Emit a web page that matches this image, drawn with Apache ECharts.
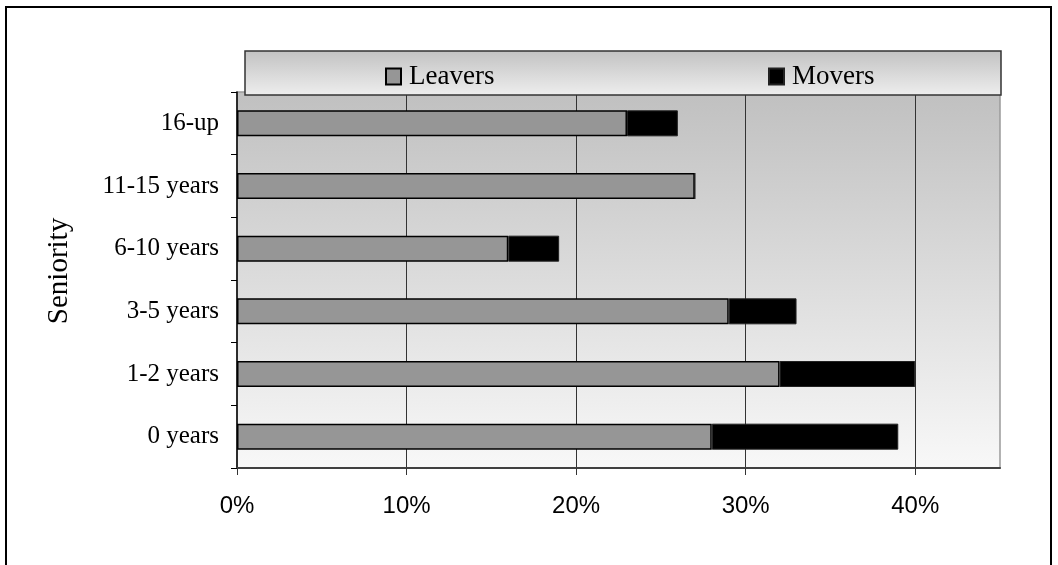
<!DOCTYPE html>
<html>
<head>
<meta charset="utf-8">
<script src="https://cdn.jsdelivr.net/npm/echarts@6/dist/echarts.min.js"></script>
<style>
  html, body { margin: 0; padding: 0; background: #fff; }
  #chart { width: 1058px; height: 565px; }
</style>
</head>
<body>
<div id="chart"></div>
<script>
// Seniority groups, bottom to top
const categories = ['0 years', '1-2 years', '3-5 years', '6-10 years', '11-15 years', '16-up'];
// Share of employees (fractions)
const leavers = [0.28, 0.32, 0.29, 0.16, 0.27, 0.23];
const movers  = [0.11, 0.08, 0.04, 0.03, 0.00, 0.03];
const xTicks = [0, 0.1, 0.2, 0.3, 0.4];

const serif = '"Liberation Serif", "Times New Roman", serif';
const sans = '"Liberation Sans", Arial, sans-serif';

const chart = echarts.init(document.getElementById('chart'), null, { renderer: 'canvas' });

const plotBg = new echarts.graphic.LinearGradient(0, 0, 0, 1, [
  { offset: 0, color: '#c0c0c0' },
  { offset: 1, color: '#f8f8f8' }
]);
const legendBg = new echarts.graphic.LinearGradient(0, 0, 0, 1, [
  { offset: 0, color: '#c2c2c2' },
  { offset: 1, color: '#eeeeee' }
]);

chart.setOption({
  animation: false,
  backgroundColor: '#ffffff',
  graphic: [
    {
      type: 'rect', z: 0, silent: true,
      shape: { x: 6, y: 7, width: 1045, height: 620 },
      style: { fill: 'none', stroke: '#000', lineWidth: 2 }
    },
    {
      type: 'rect', z: 10, silent: true,
      shape: { x: 245, y: 51, width: 756, height: 44 },
      style: { fill: legendBg, stroke: '#333', lineWidth: 1.5 }
    }
  ],
  legend: [
    {
      data: ['Leavers'], left: 380, top: 58, z: 20,
      icon: 'rect', itemWidth: 15, itemHeight: 16, itemGap: 0,
      textStyle: { fontFamily: serif, fontSize: 27, color: '#000', padding: [0, 0, 0, 3] }
    },
    {
      data: ['Movers'], left: 763, top: 58, z: 20,
      icon: 'rect', itemWidth: 15, itemHeight: 16, itemGap: 0,
      textStyle: { fontFamily: serif, fontSize: 27, color: '#000', padding: [0, 0, 0, 3] }
    }
  ],
  grid: {
    left: 237, right: 58, top: 92, bottom: 97,
    show: true, backgroundColor: plotBg,
    borderColor: '#9a9a9a', borderWidth: 1.5,
    containLabel: false
  },
  xAxis: {
    type: 'value', min: 0, max: 0.45, interval: 0.1,
    axisLine: { show: true, lineStyle: { color: '#404040', width: 2 } },
    axisTick: { show: true, length: 7, lineStyle: { color: '#333', width: 1 } },
    axisLabel: {
      margin: 26, fontFamily: sans, fontSize: 24, color: '#000',
      showMaxLabel: false,
      formatter: v => xTicks.some(t => Math.abs(t - v) < 1e-9) ? Math.round(v * 100) + '%' : ''
    },
    splitLine: { show: true, showMinLine: false, showMaxLine: false, lineStyle: { color: '#333', width: 1 } }
  },
  yAxis: {
    type: 'category', data: categories,
    name: 'Seniority', nameLocation: 'middle', nameRotate: 90, nameGap: 163,
    nameTextStyle: { fontFamily: serif, fontSize: 29, color: '#000', padding: [0, 0, 0, 18] },
    axisLine: { show: true, lineStyle: { color: '#000', width: 1.5 } },
    axisTick: { show: true, length: 6, alignWithLabel: false, lineStyle: { color: '#000', width: 1 } },
    axisLabel: { margin: 18, fontFamily: serif, fontSize: 25, color: '#000' },
    splitLine: { show: false }
  },
  series: [
    {
      name: 'Leavers', type: 'bar', stack: 'total', data: leavers,
      barWidth: 26,
      itemStyle: { color: '#969696', borderColor: '#000', borderWidth: 1.5 }
    },
    {
      name: 'Movers', type: 'bar', stack: 'total', data: movers,
      barWidth: 26,
      itemStyle: { color: '#000', borderColor: '#222', borderWidth: 1 }
    }
  ]
});
</script>
</body>
</html>
